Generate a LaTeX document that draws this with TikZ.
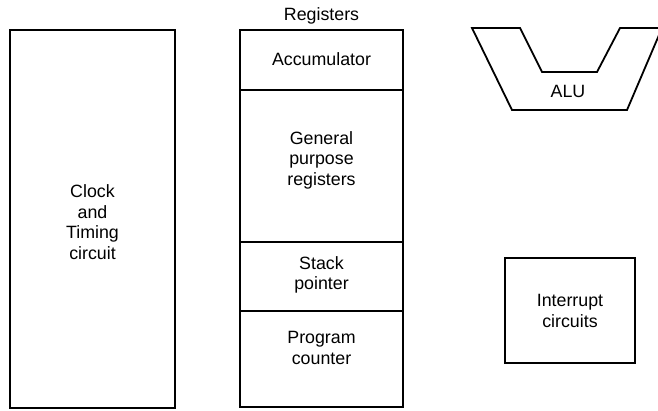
\documentclass[tikz,border=0pt]{standalone}
\usepackage{fontspec}
\setmainfont{Liberation Sans}
\begin{document}
\begin{tikzpicture}[x=1pt,y=-1pt,
  box/.style={draw, line width=1.8pt, inner sep=0pt, rectangle},
  lbl/.style={align=center, font=\fontsize{17.8}{20.5}\selectfont, inner sep=0pt}]
\useasboundingbox (0,0) rectangle (658,410);
% Clock and timing
\node[box, minimum width=165pt, minimum height=378pt] (clock) at (92.5,219) {};
\node[lbl] (clocktxt) at (92.5,222) {Clock\\and\\Timing\\circuit};
% Registers column
\node[lbl, anchor=base] (regtitle) at (321.5,20) {Registers};
\node[box, minimum width=163pt, minimum height=60pt] (acc) at (321.5,60) {};
\node[box, minimum width=163pt, minimum height=152pt] (gpr) at (321.5,166) {};
\node[box, minimum width=163pt, minimum height=69pt] (sp) at (321.5,276.5) {};
\node[box, minimum width=163pt, minimum height=96pt] (pc) at (321.5,359) {};
\node[lbl] (acctxt) at (321.5,59) {Accumulator};
\node[lbl] (gprtxt) at (321.5,160) {General\\purpose\\registers};
\node[lbl] (sptxt) at (321.5,275) {Stack\\pointer};
\node[lbl] (pctxt) at (321.5,348) {Program\\counter};
% ALU
\begin{scope}
\clip (0,0) rectangle (658,410);
\draw[line width=1.8pt, line join=miter] (472,28) -- (520,28) -- (542,72) -- (597,72) -- (620,28) -- (662,28) -- (627,110) -- (512,110) -- cycle;
\end{scope}
\node[lbl] (alu) at (568,91) {ALU};
% Interrupt
\node[box, minimum width=130pt, minimum height=105pt] (intr) at (570,310.5) {};
\node[lbl] (intrtxt) at (570,311) {Interrupt\\circuits};
\end{tikzpicture}
\end{document}
